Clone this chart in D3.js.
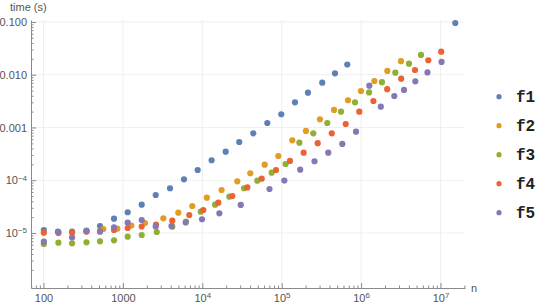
<!DOCTYPE html>
<html><head><meta charset="utf-8">
<script src="https://cdn.jsdelivr.net/npm/d3@7"></script>
<style>
html,body{margin:0;padding:0;background:#fff;}
svg{display:block;}
</style></head>
<body>
<svg id="chart" width="540" height="308"></svg>
<script>
const seriesNames = ["f1","f2","f3","f4","f5"];
const seriesColors = ["#5E81B5","#E19C24","#8FB032","#EB6235","#8778B3"];

const f1n = [101,152,229,348,515,773,1149,1725,2590,3920,5880,8750,13100,19700,29200,43900,65900,98800,147000,214000,324000,469000,670000,15350000];
const f1t = [1.14e-5,1.06e-5,1.06e-5,1.105e-5,1.357e-5,1.867e-5,2.47e-5,3.44e-5,5.25e-5,7.04e-5,1.042e-4,1.564e-4,2.39e-4,3.48e-4,5.31e-4,7.76e-4,1.217e-3,1.78e-3,3.0e-3,4.57e-3,7.06e-3,1.064e-2,1.563e-2,9.57e-2];

const f2n = [566,850,1276,1900,3230,4990,7480,11400,17500,27600,40200,61100,90600,136000,202000,303000,456000,684000,997000,1470000,2140000,3180000];
const f2t = [1.19e-5,1.206e-5,1.387e-5,1.547e-5,1.90e-5,2.43e-5,3.25e-5,4.67e-5,6.53e-5,9.55e-5,1.355e-4,1.97e-4,2.88e-4,5.72e-4,8.59e-4,1.43e-3,2.15e-3,3.28e-3,4.92e-3,7.61e-3,1.178e-2,1.807e-2];

const f3n = [101,154,229,348,515,773,1149,1725,2670,4190,6230,9550,14500,21900,33500,49300,74800,112000,167000,250000,375000,558000,838000,1260000,1830000,2700000,4010000,5680000];
const f3t = [6.19e-6,6.55e-6,6.38e-6,6.66e-6,6.96e-6,7.27e-6,8.51e-6,9.16e-6,1.045e-5,1.316e-5,1.652e-5,2.53e-5,3.44e-5,4.88e-5,7.04e-5,9.8e-5,1.39e-4,2.03e-4,5.15e-4,7.76e-4,1.217e-3,1.99e-3,3.0e-3,4.61e-3,7.22e-3,1.094e-2,1.62e-2,2.37e-2];

const f4n = [101,154,229,348,515,773,1149,1725,2610,4190,6860,10300,15900,23900,36900,56000,84800,127000,189000,284000,427000,640000,949000,1430000,2130000,3200000,4770000,7020000,10200000];
const f4t = [1.013e-5,1.0e-5,1.013e-5,1.06e-5,1.09e-5,1.14e-5,1.244e-5,1.328e-5,1.449e-5,1.71e-5,2.19e-5,2.73e-5,3.75e-5,5.03e-5,7.29e-5,1.07e-4,1.564e-4,2.32e-4,3.33e-4,5.04e-4,7.76e-4,1.165e-3,1.99e-3,3.18e-3,5.32e-3,8.41e-3,1.23e-2,1.88e-2,2.74e-2];

const f5n = [101,154,229,348,515,773,1149,1725,2590,4090,6180,9910,16400,30500,70200,108000,171000,259000,386000,580000,863000,1270000,1770000,2620000,3470000,4820000,6850000,10300000];
const f5t = [6.84e-6,1.045e-5,8.22e-6,1.09e-5,1.06e-5,1.283e-5,1.567e-5,1.764e-5,1.328e-5,1.357e-5,1.58e-5,1.82e-5,2.36e-5,3.40e-5,6.82e-5,9.89e-5,1.585e-4,2.29e-4,3.33e-4,4.87e-4,8.32e-4,6.2e-3,2.48e-3,3.95e-3,5.14e-3,7.51e-3,1.104e-2,1.745e-2];

const xTickValues = [100,1000,1e4,1e5,1e6,1e7];
const xTickLabels = [["100",""],["1000",""],["10","4"],["10","5"],["10","6"],["10","7"]];
const yTickValues = [1e-5,1e-4,1e-3,1e-2,1e-1];
const yTickLabels = [["10","\u22125"],["10","\u22124"],["0.001",""],["0.010",""],["0.100",""]];

const xLabel = "n";
const yLabel = "time (s)";

const seriesN = [f1n,f2n,f3n,f4n,f5n];
const seriesT = [f1t,f2t,f3t,f4t,f5t];

const svg = d3.select("#chart");
const x = d3.scaleLog().domain([69.6, 2.035e7]).range([31, 465]);
const y = d3.scaleLog().domain([9.06e-7, 0.109]).range([288, 20]);

const axisColor = "#8a8a8a";
const labelColor = "#555";
const font = "'Liberation Sans', Arial, sans-serif";

// minor tick values
const xMinor = [];
for (let e = 1; e <= 7; e++) for (let m = 1; m <= 9; m++) { const v = m * Math.pow(10, e); if (v >= x.domain()[0] && v <= x.domain()[1] && m !== 1) xMinor.push(v); }
const yMinor = [];
for (let e = -7; e <= -1; e++) for (let m = 1; m <= 9; m++) { const v = m * Math.pow(10, e); if (v >= y.domain()[0] && v <= y.domain()[1] && m !== 1) yMinor.push(v); }

// grid lines
const grid = svg.append("g");
grid.selectAll("line.gx").data(xTickValues).join("line")
  .attr("x1", d => x(d)).attr("x2", d => x(d)).attr("y1", y.range()[1]).attr("y2", y.range()[0])
  .attr("stroke", "#efefef").attr("stroke-width", 1);
grid.selectAll("line.gy").data(yTickValues).join("line")
  .attr("y1", d => y(d)).attr("y2", d => y(d)).attr("x1", x.range()[0]).attr("x2", x.range()[1])
  .attr("stroke", "#efefef").attr("stroke-width", 1);

// x axis
const gx = svg.append("g").attr("transform", `translate(0,${y.range()[0]})`);
gx.call(d3.axisBottom(x).tickValues(xMinor).tickSize(-2.5).tickSizeOuter(0).tickFormat(""));
const gxMaj = svg.append("g").attr("transform", `translate(0,${y.range()[0]})`);
gxMaj.call(d3.axisBottom(x).tickValues(xTickValues).tickSize(-5).tickSizeOuter(0).tickPadding(6).tickFormat(() => ""));
gxMaj.select(".domain").remove();
[gx, gxMaj].forEach(g => { g.selectAll("path,line").attr("stroke", axisColor); });
gxMaj.selectAll(".tick text").each(function(d, i) {
  const t = d3.select(this);
  t.attr("font-family", font).attr("font-size", 11).attr("fill", labelColor);
  const lab = xTickLabels[i];
  t.append("tspan").text(lab[0]);
  if (lab[1]) t.append("tspan").attr("dy", "-0.45em").attr("font-size", 8).text(lab[1]);
});

// y axis
const gy = svg.append("g").attr("transform", `translate(${x.range()[0]},0)`);
gy.call(d3.axisLeft(y).tickValues(yMinor).tickSize(-2.5).tickSizeOuter(0).tickFormat(""));
const gyMaj = svg.append("g").attr("transform", `translate(${x.range()[0]},0)`);
gyMaj.call(d3.axisLeft(y).tickValues(yTickValues).tickSize(-5).tickSizeOuter(0).tickPadding(4).tickFormat(() => ""));
gyMaj.select(".domain").remove();
[gy, gyMaj].forEach(g => { g.selectAll("path,line").attr("stroke", axisColor); });
gyMaj.selectAll(".tick text").each(function(d, i) {
  const t = d3.select(this);
  t.attr("font-family", font).attr("font-size", 11).attr("fill", labelColor);
  const lab = yTickLabels[i];
  t.append("tspan").text(lab[0]);
  if (lab[1]) t.append("tspan").attr("dy", "-0.45em").attr("font-size", 8).text(lab[1]);
});
svg.selectAll(".domain").attr("stroke", axisColor);

// axis labels
svg.append("text").attr("x", 471).attr("y", y.range()[0] + 4).attr("font-family", font).attr("font-size", 11).attr("fill", labelColor).text(xLabel);
svg.append("text").attr("x", 10).attr("y", 11).attr("font-family", font).attr("font-size", 11).attr("fill", labelColor).text(yLabel);

// points
seriesNames.forEach((name, s) => {
  const pts = seriesN[s].map((n, i) => [n, seriesT[s][i]]);
  svg.append("g").selectAll("circle").data(pts).join("circle")
    .attr("cx", d => x(d[0])).attr("cy", d => y(d[1])).attr("r", 3.1)
    .attr("fill", seriesColors[s]);
});

// legend
const leg = svg.append("g");
seriesNames.forEach((name, s) => {
  const yy = 96.7 + s * 29;
  leg.append("circle").attr("cx", 499).attr("cy", yy).attr("r", 2.6).attr("fill", seriesColors[s]);
  leg.append("text").attr("x", 516).attr("y", yy).attr("dy", "0.35em")
    .attr("font-family", "'Courier New', 'Liberation Mono', monospace").attr("font-weight", "bold")
    .attr("font-size", 16).attr("fill", "#222").text(name);
});
</script>
</body></html>
